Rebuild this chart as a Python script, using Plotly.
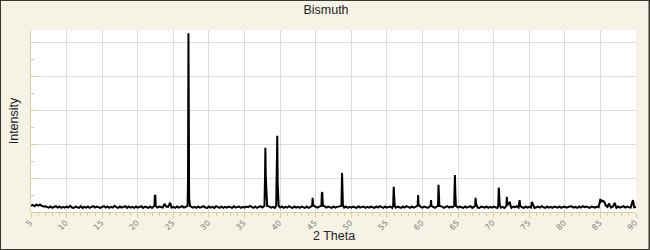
import plotly.graph_objects as go

# ---- data ----
# baseline intensity (hundredths of a grid unit) from 5.00 to 90.00 in 0.25 deg steps
baseline_start = 5.0
baseline_step = 0.25
baseline_vals = [
    18,21,17,22,19,22,18,16,17,15,13,16,12,15,17,13,16,12,15,13,
    16,13,18,13,12,16,14,12,17,12,15,13,16,12,15,17,13,16,14,12,
    15,17,13,16,12,15,13,18,14,12,16,13,15,17,12,16,13,15,12,16,
    13,15,17,12,16,14,12,16,12,15,17,13,16,14,13,12,16,15,21,13,
    15,12,16,13,15,17,13,16,14,12,16,13,15,12,16,13,15,17,13,12,
    16,13,15,12,17,14,12,16,12,15,13,16,14,12,17,13,15,16,12,15,
    13,16,14,18,15,12,16,12,15,17,13,16,14,12,16,13,15,12,16,14,
    13,16,12,15,13,17,14,12,16,13,15,12,16,14,12,16,12,15,13,16,
    15,13,16,12,15,17,13,16,14,12,16,13,15,16,12,15,13,16,12,15,
    13,16,14,12,17,13,15,16,12,15,13,16,14,12,16,13,17,14,12,16,
    13,15,16,12,15,13,16,14,12,16,13,17,14,12,16,13,15,16,12,15,
    13,16,14,12,16,13,15,12,16,14,13,16,12,15,17,13,16,14,12,15,
    13,16,14,12,16,13,15,17,12,16,14,13,12,16,14,13,16,12,15,13,
    16,14,12,16,13,15,12,16,13,15,12,16,14,17,13,16,14,12,16,13,
    15,13,16,12,15,16,13,17,14,12,16,13,15,12,16,14,13,16,12,15,
    16,13,15,17,16,13,15,12,16,13,17,14,16,13,12,16,14,13,16,14,
    18,17,16,19,15,17,13,16,14,12,16,13,15,17,13,16,14,13,16,14,
    15,
]

# diffraction peak profile points (2 theta, intensity)
peak_2theta = [
    22.35, 22.40, 22.47, 22.52,
    23.75, 24.55,
    27.00, 27.06, 27.12, 27.17, 27.22, 27.28, 27.35,
    37.80, 37.87, 37.93, 37.98, 38.03, 38.10, 38.18,
    39.45, 39.53, 39.60, 39.66, 39.72, 39.80,
    44.50, 44.57, 44.63,
    45.80, 45.86, 45.92, 45.98, 46.05,
    48.62, 48.70, 48.75, 48.82,
    55.88, 55.96, 56.02, 56.10,
    59.32, 59.39, 59.45,
    61.15, 61.20, 61.26,
    62.18, 62.25, 62.31, 62.38,
    64.45, 64.50, 64.56, 64.62, 64.70,
    67.40, 67.46, 67.52,
    70.65, 70.72, 70.78, 70.85,
    71.80, 71.85, 71.92,
    72.28, 72.35,
    73.65, 73.72,
    75.38, 75.45,
    85.00, 85.08, 85.30, 85.55,
    86.20, 87.00, 89.57,
]
peak_intensity = [
    0.18, 0.50, 0.48, 0.18,
    0.24, 0.27,
    0.18, 1.00, 5.26, 2.88, 0.40, 0.30, 0.18,
    0.18, 0.95, 1.89, 1.09, 0.85, 0.30, 0.18,
    0.18, 1.89, 2.24, 0.80, 0.30, 0.18,
    0.18, 0.42, 0.20,
    0.18, 0.55, 0.59, 0.30, 0.18,
    0.18, 1.15, 0.76, 0.20,
    0.18, 0.74, 0.50, 0.18,
    0.18, 0.50, 0.22,
    0.18, 0.35, 0.18,
    0.18, 0.80, 0.55, 0.18,
    0.18, 0.60, 1.09, 0.55, 0.18,
    0.18, 0.42, 0.25,
    0.18, 0.72, 0.50, 0.22,
    0.18, 0.45, 0.20,
    0.30, 0.20,
    0.35, 0.18,
    0.30, 0.25,
    0.38, 0.30, 0.33, 0.30,
    0.25, 0.27, 0.35,
]

x_ticks = list(range(5, 91, 5))
x_tick_labels = [str(v) for v in x_ticks]

# ---- merge baseline and peaks ----
pts = []
for i, v in enumerate(baseline_vals):
    x = baseline_start + i * baseline_step
    if min(abs(x - p) for p in peak_2theta) > 0.12:
        pts.append((x, v / 100.0))
pts += list(zip(peak_2theta, peak_intensity))
pts.sort()
xs = [p[0] for p in pts]
ys = [p[1] for p in pts]

W, H = 650, 250
L, R, T, B = 31, 14, 30, 38
pw, ph = W - L - R, H - T - B

axis_col = "#d8d29a"
grid_col = "#dcdcdc"

fig = go.Figure(go.Scatter(x=xs, y=ys, mode="lines",
                           line=dict(color="black", width=2),
                           hoverinfo="skip", showlegend=False))

fig.update_layout(
    width=W, height=H,
    margin=dict(l=L, r=R, t=T, b=B, pad=0, autoexpand=False),
    paper_bgcolor="#f5f3e6",
    plot_bgcolor="white",
    font=dict(family="Liberation Sans, Arial, sans-serif", color="#222"),
    title=dict(text="Bismuth", x=326 / W, xanchor="center",
               y=1 - 10 / H, yanchor="middle", font=dict(size=12.5, color="#222"),
               automargin=False),
    xaxis=dict(
        range=[5, 90], tickmode="array", tickvals=x_ticks, ticktext=x_tick_labels,
        tickangle=-45, tickfont=dict(size=8, color="#808080", family="DejaVu Sans"),
        ticklabelstandoff=-3, ticklabelshift=-1,
        showgrid=True, gridcolor=grid_col, gridwidth=1,
        showline=True, linecolor=axis_col, linewidth=1,
        ticks="outside", ticklen=5, tickcolor=axis_col, tickwidth=1,
        minor=dict(dtick=1, ticks="outside", ticklen=3, tickcolor=axis_col, showgrid=False),
        zeroline=False, automargin=False,
    ),
    yaxis=dict(
        range=[0, ph / 34.0], dtick=1, tick0=0,
        showticklabels=False,
        showgrid=True, gridcolor=grid_col, gridwidth=1,
        showline=True, linecolor=axis_col, linewidth=1,
        ticks="inside", ticklen=5, tickcolor=axis_col, tickwidth=1,
        minor=dict(dtick=0.5, ticks="inside", ticklen=3, tickcolor=axis_col, showgrid=False),
        zeroline=False, automargin=False,
        title=dict(text="Intensity", font=dict(size=12.5, color="#222"), standoff=8),
    ),
    annotations=[dict(text="2 Theta", xref="paper", yref="paper",
                      x=0.5, y=-(236 - (T + ph)) / ph, xanchor="center", yanchor="middle",
                      showarrow=False, font=dict(size=12.5, color="#222"))],
    shapes=[dict(type="rect", xref="paper", yref="paper",
                 x0=-L / pw, x1=1 + (R - 0.5) / pw,
                 y0=-B / ph, y1=1 + T / ph,
                 line=dict(color="#3a382f", width=2), layer="above")],
)

fig.write_html("out.html")
